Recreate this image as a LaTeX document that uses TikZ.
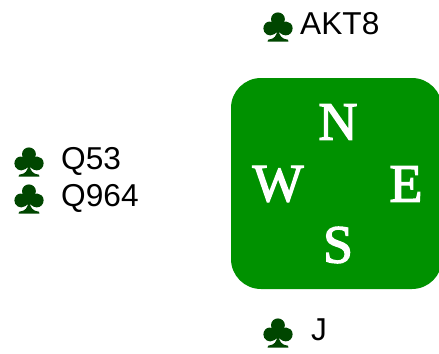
\documentclass[tikz,border=0pt]{standalone}
\usepackage{fontspec}
\setmainfont{Liberation Sans}
\newfontfamily\seatfont[FakeBold=2.5]{Liberation Serif}
\newfontfamily\clubfont[FakeBold=2.5]{Liberation Sans}
\definecolor{tablegreen}{RGB}{0,145,0}
\definecolor{clubgreen}{RGB}{0,70,0}
\begin{document}
\begin{tikzpicture}[x=.03cm, y=-.03cm,
  club/.style={text=clubgreen, inner sep=0pt, font=\clubfont\fontsize{40}{40}\selectfont},
  cards/.style={anchor=base west, inner sep=0pt, font=\fontsize{27}{30}\selectfont},
  seat/.style={text=white, inner sep=0pt, font=\seatfont\fontsize{46}{46}\selectfont}]
  \useasboundingbox (0, 0) rectangle (439, 353);
  \fill [tablegreen, rounded corners=.9cm] (231, 78) rectangle (442, 289);
  \node [seat] (n) at (338, 122) {N};
  \node [seat] (w) at (278, 184) {W};
  \node [seat] (e) at (406, 184) {E};
  \node [seat] (s) at (338, 245) {S};
  \node [club] (northclub) at (278, 27) {♣};
  \node [club] (westclub1) at (29, 162) {♣};
  \node [club] (westclub2) at (29, 199) {♣};
  \node [club] (southclub) at (278, 333) {♣};
  \node [cards] (northcards) at (300, 34) {AKT8};
  \node [cards] (westcards1) at (61, 169) {Q53};
  \node [cards] (westcards2) at (61, 206) {Q964};
  \node [cards] (southcards) at (311, 340) {J};
\end{tikzpicture}
\end{document}
